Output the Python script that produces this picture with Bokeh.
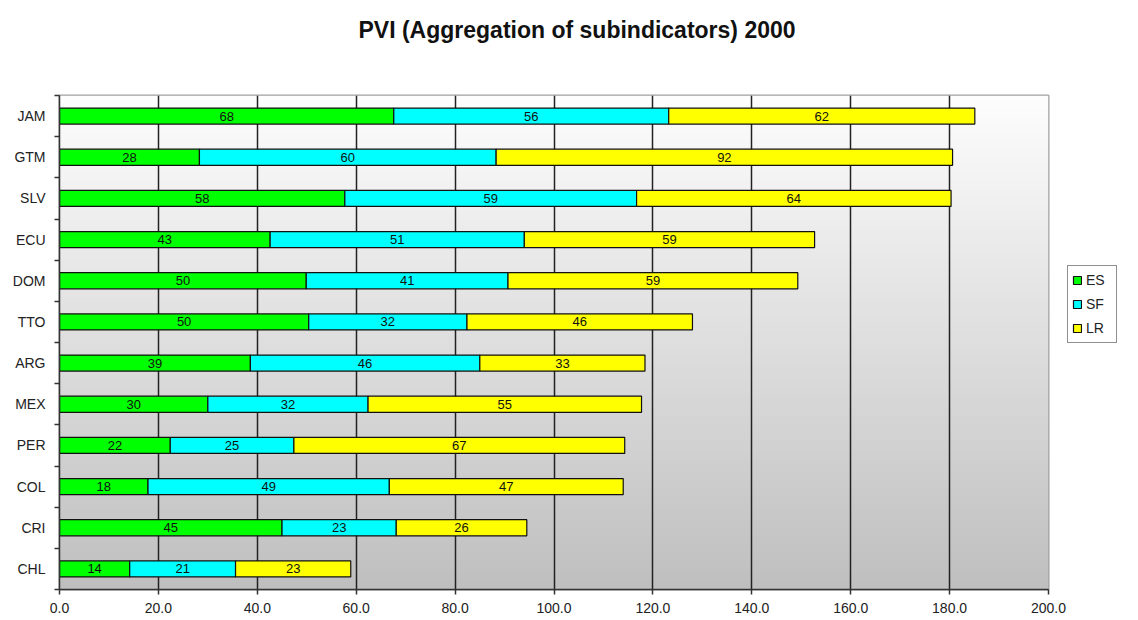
import numpy as np
from bokeh.plotting import figure
from bokeh.models import (Range1d, ColumnDataSource, Legend, LegendItem, Title,
                          FixedTicker, PrintfTickFormatter, LinearColorMapper)
from bokeh.core.properties import value
from bokeh.embed import file_html
from bokeh.resources import INLINE

# ---- data ----
countries = ["JAM", "GTM", "SLV", "ECU", "DOM", "TTO", "ARG", "MEX", "PER", "COL", "CRI", "CHL"]
es = [67.6, 28.3, 57.7, 42.6, 49.9, 50.4, 38.6, 30.0, 22.4, 17.9, 45.0, 14.2]
sf = [55.6, 60.0, 59.0, 51.4, 40.8, 32.0, 46.4, 32.4, 25.0, 48.8, 23.1, 21.4]
lr = [61.9, 92.3, 63.6, 58.7, 58.6, 45.6, 33.4, 55.3, 66.9, 47.3, 26.4, 23.3]
series = ["ES", "SF", "LR"]
series_colors = ["#00ff00", "#00ffff", "#ffff00"]
x_ticks = [0, 20, 40, 60, 80, 100, 120, 140, 160, 180, 200]
title_text = "PVI (Aggregation of subindicators) 2000"

FONT = "Liberation Sans"
n = len(countries)
# category slots: first country at the top
ypos = [n - i - 0.5 for i in range(n)]

p = figure(width=1138, height=620, frame_width=989, frame_height=494,
           output_backend="svg", toolbar_location=None,
           y_range=Range1d(0, n), x_range=Range1d(x_ticks[0], x_ticks[-1]),
           min_border_left=59, min_border_right=90, min_border_top=95, min_border_bottom=31)
p.background_fill_color = "white"
p.border_fill_color = "white"
p.outline_line_color = "#a0a0a0"
p.outline_line_width = 2

# gradient background of the plot area
grad = np.linspace(0, 1, 200).reshape(-1, 1).repeat(2, axis=1)
pal = []
for t in np.linspace(0, 1, 256):
    c = int(round(0xbf + (0xfd - 0xbf) * t))
    pal.append("#%02x%02x%02x" % (c, c, c))
img = p.image(image=[grad], x=x_ticks[0], y=0, dw=x_ticks[-1] - x_ticks[0], dh=n,
              color_mapper=LinearColorMapper(palette=pal, low=0, high=1))
img.level = "image"

# stacked bars
source = ColumnDataSource(dict(y=ypos, ES=es, SF=sf, LR=lr))
rends = p.hbar_stack(series, y="y", height=0.39, color=series_colors,
                     line_color="#111111", line_width=1.2, source=source)

# segment value labels
lx, ly, lt = [], [], []
for i in range(n):
    left = 0.0
    for v in (es[i], sf[i], lr[i]):
        lx.append(left + v / 2.0)
        ly.append(ypos[i])
        lt.append("%d" % int(round(v)))
        left += v
p.text(x=lx, y=ly, text=lt, text_align="center", text_baseline="middle",
       text_font=value(FONT), text_font_size="13px", text_color="#111111")

# x axis & grid
p.xaxis.ticker = FixedTicker(ticks=x_ticks)
p.xaxis.formatter = PrintfTickFormatter(format="%.1f")
p.xaxis.major_label_text_font = FONT
p.xaxis.major_label_text_font_size = "14px"
p.xaxis.major_label_text_color = "#222222"
p.xaxis.major_tick_out = 5
p.xaxis.major_tick_in = 0
p.xaxis.minor_tick_line_color = None
p.xaxis.axis_line_color = "#333333"
p.xaxis.axis_line_width = 1.5
p.xaxis.major_tick_line_color = "#333333"
p.xaxis.major_tick_line_width = 1.5
p.xaxis.major_label_standoff = 8
p.xgrid.ticker = FixedTicker(ticks=x_ticks)
p.xgrid.grid_line_color = "#222222"
p.xgrid.grid_line_width = 1.5
p.ygrid.grid_line_color = None

# y axis: labels at category centres, ticks at category boundaries
yax = p.yaxis[0]
yax.ticker = FixedTicker(ticks=ypos, minor_ticks=list(range(n + 1)))
yax.major_label_overrides = {ypos[i]: countries[i] for i in range(n)}
yax.major_tick_out = 0
yax.major_tick_in = 0
yax.minor_tick_out = 5
yax.minor_tick_in = 0
yax.minor_tick_line_color = "#333333"
yax.minor_tick_line_width = 1.5
yax.axis_line_color = "#333333"
yax.axis_line_width = 1.5
yax.major_label_text_font = FONT
yax.major_label_text_font_size = "14px"
yax.major_label_text_color = "#222222"
yax.major_label_standoff = 9

# spacer between title and plot area
p.add_layout(Title(text=" ", text_font_size="32px"), "above")

# title
p.title.text = title_text
p.title.text_font = FONT
p.title.text_font_size = "23px"
p.title.text_font_style = "bold"
p.title.text_color = "#111111"
p.title.align = "left"
p.title.offset = 299

# legend (outside the plot area, in the right panel)
legend = Legend(items=[LegendItem(label=s, renderers=[r]) for s, r in zip(series, rends)],
                location=(19, 246), orientation="vertical",
                border_line_color="#222222", border_line_width=1.5,
                background_fill_color="white", background_fill_alpha=1,
                label_text_font=FONT, label_text_font_size="14px", label_text_color="#222222",
                glyph_width=10, glyph_height=10, label_standoff=4, label_width=26,
                label_height=20, padding=4, spacing=4, margin=0)
p.add_layout(legend, "right")

open("out.html", "w").write(file_html(p, INLINE))
